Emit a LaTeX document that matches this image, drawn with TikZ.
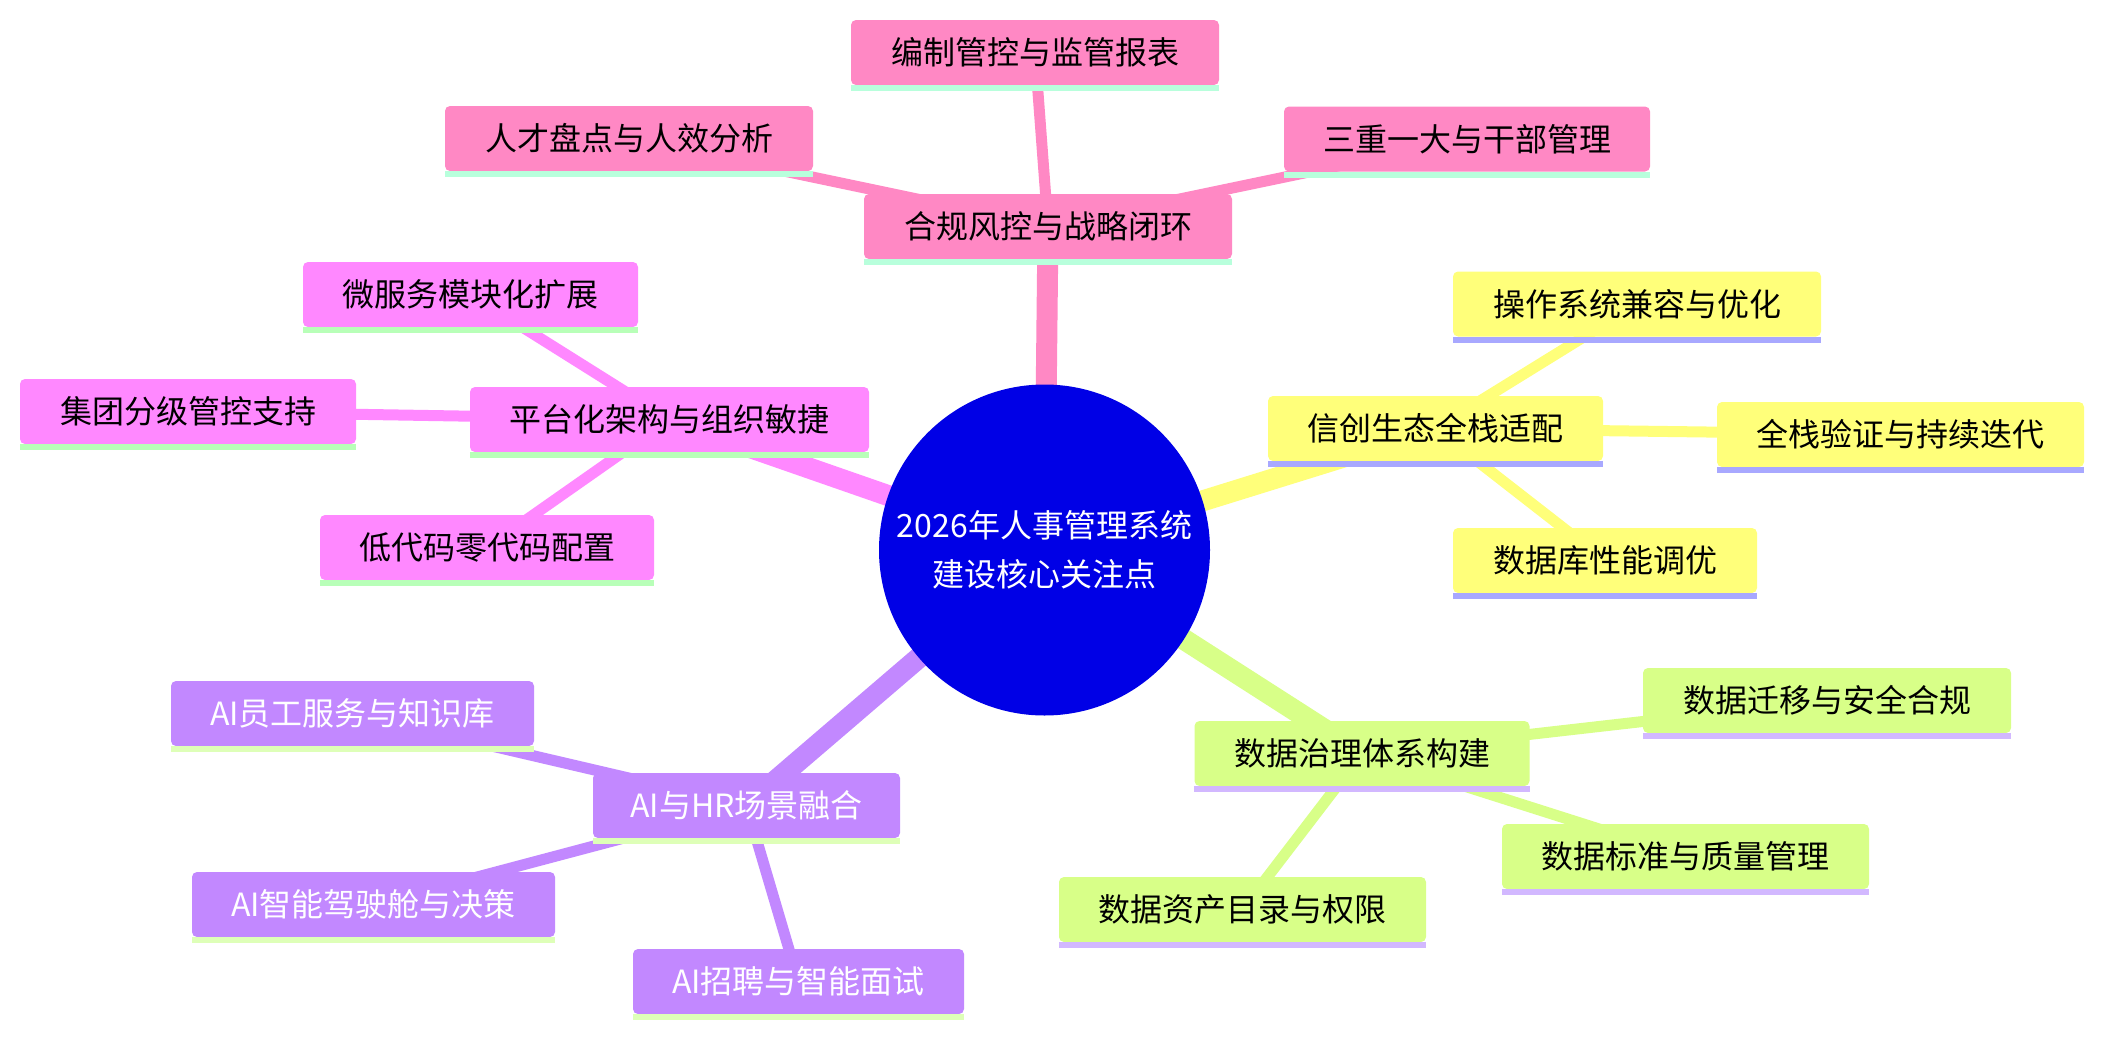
\documentclass[tikz,border=0pt]{standalone}
\usepackage{fontspec}
\setmainfont{Noto Sans CJK SC}
\usetikzlibrary{calc}
\definecolor{rootblue}{HTML}{0000E6}
\definecolor{cpink}{HTML}{FF88C4}
\definecolor{upink}{HTML}{B8FFDC}
\definecolor{cyel}{HTML}{FFFF7A}
\definecolor{uyel}{HTML}{A8A8FF}
\definecolor{cmag}{HTML}{FF88FF}
\definecolor{umag}{HTML}{B8FFB8}
\definecolor{cpur}{HTML}{C288FF}
\definecolor{upur}{HTML}{DEFFB8}
\definecolor{clime}{HTML}{D8FF88}
\definecolor{ulime}{HTML}{D2B8FF}
\pgfdeclarelayer{bg}
\pgfsetlayers{bg,main}
\tikzset{
  box/.style={rectangle, rounded corners=5pt, minimum height=65pt, inner sep=0pt,
    font=\fontsize{32}{38}\selectfont, text=black},
  pinkbox/.style={box, fill=cpink},
  yelbox/.style={box, fill=cyel},
  magbox/.style={box, fill=cmag},
  purbox/.style={box, fill=cpur, text=white},
  limebox/.style={box, fill=clime},
  rootedge/.style={line width=21pt},
  childedge/.style={line width=11pt},
}
\newcommand\ulstrip[2]{\fill[#2] (#1.south west) rectangle ($(#1.south east)+(0,6)$);}
\begin{document}
\begin{tikzpicture}[x=1pt,y=-1pt]
\useasboundingbox (0,0) rectangle (2104,1036);

\node[circle, fill=rootblue, minimum size=331pt, inner sep=0pt, text=white, align=center,
  font=\fontsize{32}{49}\selectfont] (root) at (1044.5,550) {2026年人事管理系统\\建设核心关注点};

% pink branch
\node[pinkbox, minimum width=368pt] (hegui) at (1048,226.5) {合规风控与战略闭环};
\node[pinkbox, minimum width=368pt] (bianzhi) at (1035,52.5) {编制管控与监管报表};
\node[pinkbox, minimum width=366pt] (sanchong) at (1467,139) {三重一大与干部管理};
\node[pinkbox, minimum width=368pt] (rencai) at (629,138.5) {人才盘点与人效分析};

% magenta branch
\node[magbox, minimum width=399pt] (pingtai) at (669.5,419.5) {平台化架构与组织敏捷};
\node[magbox, minimum width=335pt] (weifuwu) at (470.5,294.5) {微服务模块化扩展};
\node[magbox, minimum width=336pt] (jituan) at (188,411.5) {集团分级管控支持};
\node[magbox, minimum width=334pt] (didaima) at (487,547.5) {低代码零代码配置};

% yellow branch
\node[yelbox, minimum width=335pt] (xinchuang) at (1435.5,428.5) {信创生态全栈适配};
\node[yelbox, minimum width=368pt] (caozuo) at (1637,304) {操作系统兼容与优化};
\node[yelbox, minimum width=367pt] (quanzhan) at (1900.5,434.5) {全栈验证与持续迭代};
\node[yelbox, minimum width=304pt] (shujuku) at (1605,560.5) {数据库性能调优};

% purple branch
\node[purbox, minimum width=307pt] (aihr) at (746.5,805.5) {AI与HR场景融合};
\node[purbox, minimum width=363pt] (aiyg) at (352.5,713.5) {AI员工服务与知识库};
\node[purbox, minimum width=363pt] (aijs) at (373.5,904.5) {AI智能驾驶舱与决策};
\node[purbox, minimum width=331pt] (aizp) at (798.5,981.5) {AI招聘与智能面试};

% lime branch
\node[limebox, minimum width=335pt] (zhili) at (1362,753.5) {数据治理体系构建};
\node[limebox, minimum width=368pt] (qianyi) at (1827,700.5) {数据迁移与安全合规};
\node[limebox, minimum width=367pt] (biaozhun) at (1685.5,856.5) {数据标准与质量管理};
\node[limebox, minimum width=367pt] (zichan) at (1242.5,909.5) {数据资产目录与权限};

% underline strips
\foreach \n in {hegui,bianzhi,sanchong,rencai} {\ulstrip{\n}{upink}}
\foreach \n in {pingtai,weifuwu,jituan,didaima} {\ulstrip{\n}{umag}}
\foreach \n in {xinchuang,caozuo,quanzhan,shujuku} {\ulstrip{\n}{uyel}}
\foreach \n in {aihr,aiyg,aijs,aizp} {\ulstrip{\n}{upur}}
\foreach \n in {zhili,qianyi,biaozhun,zichan} {\ulstrip{\n}{ulime}}

\begin{pgfonlayer}{bg}
\fill[white] (0,0) rectangle (2104,1036);
\draw[rootedge, cpink] (root.center) -- (hegui.center);
\draw[rootedge, cmag] (root.center) -- (pingtai.center);
\draw[rootedge, cyel] (root.center) -- (xinchuang.center);
\draw[rootedge, cpur] (root.center) -- (aihr.center);
\draw[rootedge, clime] (root.center) -- (zhili.center);
\draw[childedge, cpink] (hegui.center) -- (bianzhi.center);
\draw[childedge, cpink] (hegui.center) -- (sanchong.center);
\draw[childedge, cpink] (hegui.center) -- (rencai.center);
\draw[childedge, cmag] (pingtai.center) -- (weifuwu.center);
\draw[childedge, cmag] (pingtai.center) -- (jituan.center);
\draw[childedge, cmag] (pingtai.center) -- (didaima.center);
\draw[childedge, cyel] (xinchuang.center) -- (caozuo.center);
\draw[childedge, cyel] (xinchuang.center) -- (quanzhan.center);
\draw[childedge, cyel] (xinchuang.center) -- (shujuku.center);
\draw[childedge, cpur] (aihr.center) -- (aiyg.center);
\draw[childedge, cpur] (aihr.center) -- (aijs.center);
\draw[childedge, cpur] (aihr.center) -- (aizp.center);
\draw[childedge, clime] (zhili.center) -- (qianyi.center);
\draw[childedge, clime] (zhili.center) -- (biaozhun.center);
\draw[childedge, clime] (zhili.center) -- (zichan.center);
\end{pgfonlayer}
\end{tikzpicture}
\end{document}
